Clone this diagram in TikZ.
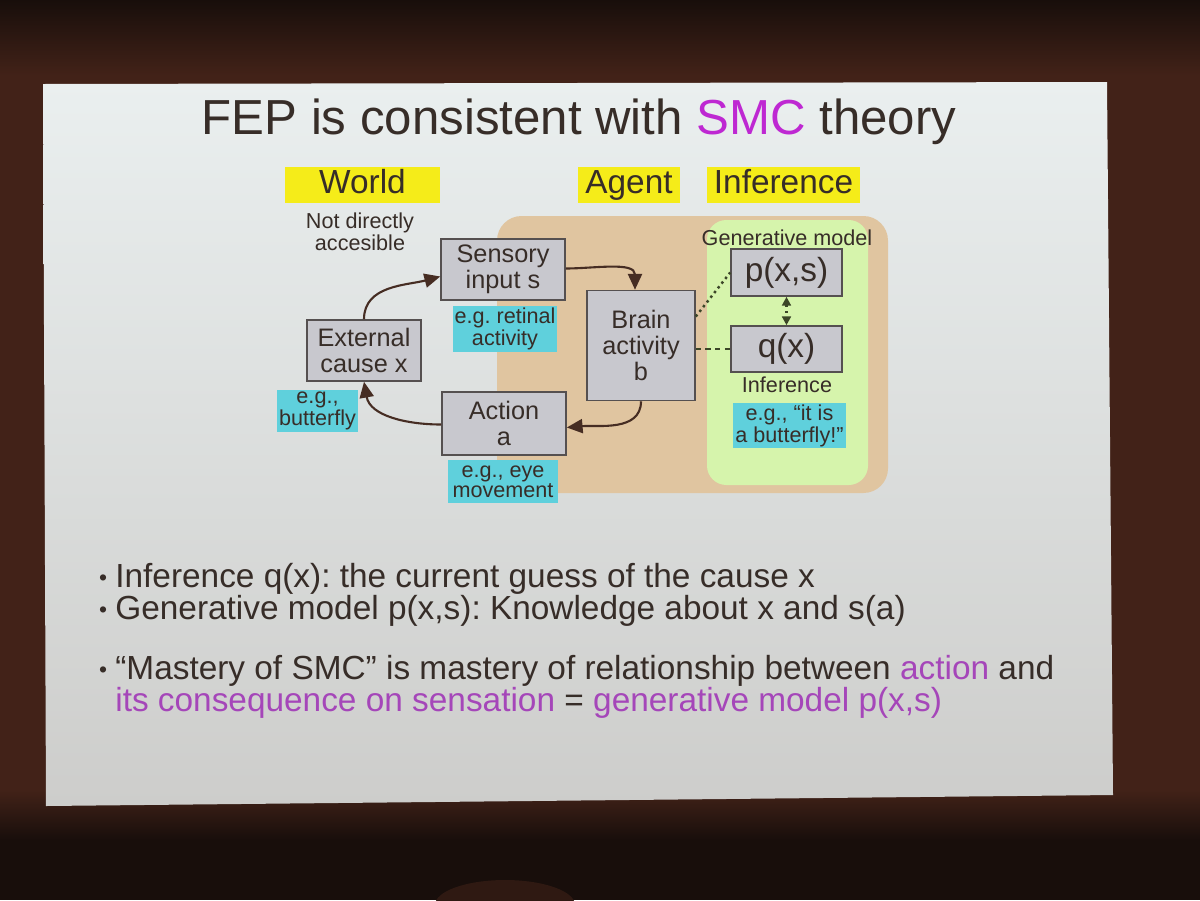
\documentclass[tikz,border=0pt]{standalone}
\usepackage{fontspec}
\setmainfont{Liberation Sans}
\usetikzlibrary{arrows.meta}
\definecolor{txt}{RGB}{55,45,40}
\definecolor{smc}{RGB}{190,40,210}
\definecolor{purp}{RGB}{165,70,185}
\definecolor{yel}{RGB}{245,236,25}
\definecolor{cyanc}{RGB}{95,208,220}
\definecolor{boxfill}{RGB}{200,200,206}
\definecolor{boxline}{RGB}{85,80,80}
\definecolor{tan}{RGB}{224,197,160}
\definecolor{greenc}{RGB}{214,244,172}
\definecolor{arrowc}{RGB}{70,45,35}
\definecolor{dotc}{RGB}{60,70,40}
\definecolor{bgbrown}{RGB}{66,34,24}
\definecolor{bgdark}{RGB}{24,14,11}
\definecolor{slidetop}{RGB}{234,239,239}
\definecolor{slidebot}{RGB}{205,205,203}
\frenchspacing
\begin{document}
\begin{tikzpicture}[x=0.02cm,y=-0.02cm,
  box/.style={draw=boxline, fill=boxfill, line width=0.9pt, inner sep=0pt, align=center,
    font=\fontsize{14.4}{14.8}\selectfont, text=txt},
  cyanlab/.style={fill=cyanc, inner sep=0pt, align=center,
    font=\fontsize{12.3}{10.2}\selectfont, text=txt},
  yellab/.style={fill=yel, inner sep=0pt, minimum height=0.72cm, text height=13.8pt, text depth=3.6pt,
    font=\fontsize{19}{20}\selectfont, text=txt},
  small/.style={inner sep=0pt, align=center, font=\fontsize{12.3}{11.3}\selectfont, text=txt},
  bullet/.style={inner sep=0pt, anchor=base west, font=\fontsize{19}{21}\selectfont, text=txt},
  flow/.style={draw=arrowc, line width=1.2pt, -{Triangle[length=9pt,width=8pt]}},
  dotlink/.style={draw=dotc, line width=1.4pt, dotted},
  dashlink/.style={draw=dotc, line width=1.2pt, dash pattern=on 3pt off 2.5pt}
]
\useasboundingbox (0,0) rectangle (1200,900);
% surroundings
\fill[bgbrown] (0,0) rectangle (1200,900);
\shade[top color=bgdark, bottom color=bgbrown] (0,0) rectangle (1200,75);
\shade[top color=bgbrown, bottom color=bgdark] (0,790) rectangle (1200,840);
\fill[bgdark] (0,840) rectangle (1200,900);
\fill[bgbrown!55!bgdark] (505,905) ellipse [x radius=70, y radius=25];
% slide
\shade[top color=slidetop, bottom color=slidebot] (43,84) -- (1107,82) -- (1113,795) -- (46,806) -- cycle;

% title
\node[inner sep=0pt, anchor=base, font=\fontsize{28}{30}\selectfont, text=txt] (title) at (579,134)
  {FEP is consistent with \textcolor{smc}{SMC} theory};

% column headers
\node[yellab, minimum width=3.1cm] (world) at (362.5,185) {World};
\node[yellab, minimum width=2.04cm] (agent) at (629,185) {Agent};
\node[yellab, minimum width=3.06cm] (infer) at (783.5,185) {Inference};
\node[small] (notdir) at (360,232) {Not directly\\accesible};

% background regions
\fill[tan, rounded corners=14pt] (497,216) rectangle (888,493);
\fill[greenc, rounded corners=11pt] (707,220) rectangle (868,485);

% boxes
\node[box, minimum width=2.48cm, minimum height=1.22cm] (sens) at (503,269.5) {Sensory\\input s};
\node[box, minimum width=2.28cm, minimum height=1.22cm] (ext) at (364,350.5) {External\\cause x};
\node[box, minimum width=2.48cm, minimum height=1.26cm] (act) at (504,423.5) {Action\\a};
\node[box, minimum width=2.16cm, minimum height=2.2cm] (brain) at (641,345.5) {Brain\\activity\\b};
\node[box, minimum width=2.22cm, minimum height=0.94cm, font=\fontsize{19}{20}\selectfont] (p) at (786.5,272.5) {p(x,s)};
\node[box, minimum width=2.22cm, minimum height=0.92cm, font=\fontsize{19}{20}\selectfont] (q) at (786.5,349) {q(x)};

% labels
\node[small] (genmod) at (787,238) {Generative model};
\node[small] (inflab) at (787,385) {Inference};
\node[cyanlab, minimum width=2.08cm, minimum height=0.92cm] (retinal) at (505,329) {e.g. retinal\\activity};
\node[cyanlab, minimum width=1.62cm, minimum height=0.84cm] (bfly) at (317.5,411) {e.g.,\\butterfly};
\node[cyanlab, minimum width=2.2cm, minimum height=0.86cm] (eye) at (503,481.5) {e.g., eye\\movement};
\node[cyanlab, minimum width=2.26cm, minimum height=0.9cm] (itis) at (789.5,425.5) {e.g., “it is\\a butterfly!”};

% loop arrows
\draw[flow] (ext.north) to[out=90, in=195] ([shift={(0,7)}]sens.west);
\draw[flow] ([shift={(0,-1)}]sens.east) to[out=0, in=90] ([shift={(-6,0)}]brain.north);
\draw[flow] (brain.south) to[out=-90, in=5] ([shift={(0,4)}]act.east);
\draw[flow] ([shift={(0,1)}]act.west) to[out=180, in=-80] (ext.south);

% links to inference
\draw[dotlink] ([shift={(0,-29)}]brain.east) -- (p.west);
\draw[dashlink] (brain.east |- q.west) -- (q.west);
\draw[dotlink, {Triangle[length=5pt,width=5pt]}-{Triangle[length=5pt,width=5pt]}] (p.south) -- (q.north);

% bullets
\node[bullet] (b1) at (115,587) {Inference q(x): the current guess of the cause x};
\node[bullet] (b2) at (115,619) {Generative model p(x,s): Knowledge about x and s(a)};
\node[bullet, text depth=1pt] (b3) at (115,679) {“Mastery of SMC” is mastery of relationship between \textcolor{purp}{action} and};
\node[bullet, text height=12pt] (b4) at (115,711) {\textcolor{purp}{its consequence on sensation} = \textcolor{purp}{generative model p(x,s)}};
\foreach \n/\yy in {d1/587, d2/619, d3/679}
  \node[inner sep=0pt, anchor=base, font=\fontsize{13}{14}\selectfont, text=txt] (\n) at (103,\yy-2) {•};
\end{tikzpicture}
\end{document}
